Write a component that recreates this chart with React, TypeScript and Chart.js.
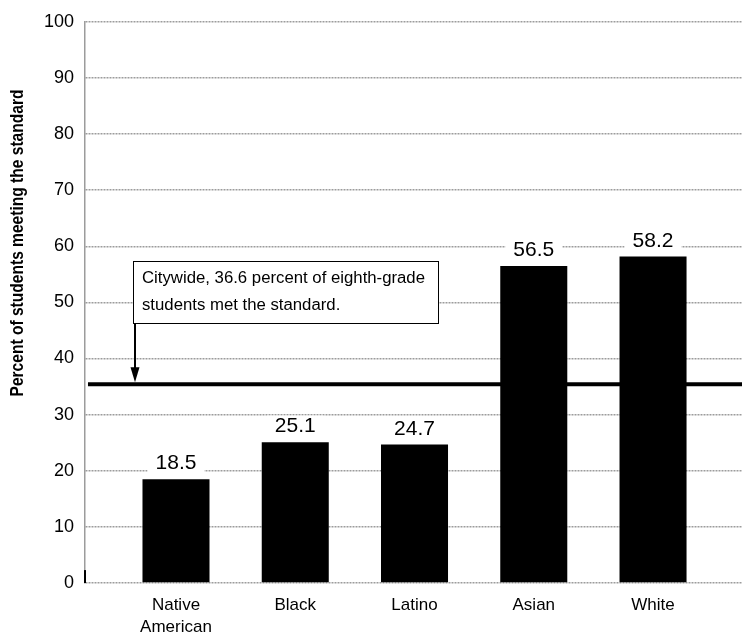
import React, { useEffect, useRef } from "react";
import { Chart, registerables } from "chart.js";

Chart.register(...registerables);

// ---- data ----
const categories = ["Native American", "Black", "Latino", "Asian", "White"];
const categoryLines = [["Native", "American"], ["Black"], ["Latino"], ["Asian"], ["White"]];
const barPositions = [1, 2, 3, 4, 5];
const percentMeeting = [18.5, 25.1, 24.7, 56.5, 58.2];
const citywideLevel = 35.4; // where the reference line is drawn
const citywideNote = ["Citywide, 36.6 percent of eighth-grade", "students met the standard."];
const yTickValues = [0, 10, 20, 30, 40, 50, 60, 70, 80, 90, 100];
const yTitle = "Percent of students meeting the standard";

const X_MIN = 0.237;
const X_MAX = 5.746;

const GRID = "#9c9c9c";
const SANS = "'Liberation Sans', Arial, sans-serif";
const NARROW = "'Liberation Sans Narrow', 'Liberation Sans', Arial, sans-serif";

const overlayPlugin = {
  id: "overlay",
  afterDatasetsDraw(chart: any) {
    const { ctx, chartArea, scales } = chart;
    const xs = scales.x;
    const ys = scales.y;
    ctx.save();

    // black tick at the lower-left corner
    ctx.fillStyle = "#000";
    ctx.fillRect(chartArea.left - 1, ys.getPixelForValue(2.3), 2, ys.getPixelForValue(0) - ys.getPixelForValue(2.3));

    // value labels with white backing
    ctx.font = `21px ${SANS}`;
    ctx.textAlign = "center";
    ctx.textBaseline = "middle";
    percentMeeting.forEach((v, i) => {
      const px = xs.getPixelForValue(barPositions[i]);
      const top = ys.getPixelForValue(v);
      const cy = top - 16.5;
      const label = v.toFixed(1);
      const w = ctx.measureText(label).width + 16;
      ctx.fillStyle = "#fff";
      ctx.fillRect(px - w / 2, cy - 10, w, 20);
      ctx.fillStyle = "#000";
      ctx.fillText(label, px, cy + 1);
    });

    // annotation box
    const bx = chartArea.left + 48;
    const by = 261;
    const bw = 305;
    const bh = 62;
    ctx.fillStyle = "#fff";
    ctx.fillRect(bx, by, bw, bh);
    ctx.strokeStyle = "#000";
    ctx.lineWidth = 1;
    ctx.strokeRect(bx + 0.5, by + 0.5, bw, bh);
    ctx.fillStyle = "#000";
    ctx.textAlign = "left";
    ctx.textBaseline = "middle";
    ctx.font = `16px ${NARROW}`;
    const w1 = ctx.measureText(citywideNote[0]).width;
    const sx = 283 / w1;
    citywideNote.forEach((line, i) => {
      ctx.save();
      ctx.translate(bx + 9, by + 18 + i * 27);
      ctx.scale(sx, 1);
      ctx.fillText(line, 0, 0);
      ctx.restore();
    });

    // arrow
    const ax = bx + 2;
    const tipY = ys.getPixelForValue(citywideLevel) - 2;
    ctx.lineWidth = 2;
    ctx.beginPath();
    ctx.moveTo(ax, by + bh);
    ctx.lineTo(ax, tipY - 10);
    ctx.stroke();
    ctx.beginPath();
    ctx.moveTo(ax - 4.5, tipY - 15);
    ctx.lineTo(ax + 4.5, tipY - 15);
    ctx.lineTo(ax, tipY);
    ctx.closePath();
    ctx.fill();

    // y-axis title
    ctx.font = `bold 19px ${NARROW}`;
    ctx.textAlign = "center";
    ctx.textBaseline = "middle";
    const tw = ctx.measureText(yTitle).width;
    ctx.save();
    ctx.translate(18, 243);
    ctx.rotate(-Math.PI / 2);
    ctx.scale(307 / tw, 1);
    ctx.fillText(yTitle, 0, 0);
    ctx.restore();

    ctx.restore();
  },
};

export default function App() {
  const canvasRef = useRef<HTMLCanvasElement | null>(null);

  useEffect(() => {
    const canvas = canvasRef.current;
    if (!canvas) return;
    const chart = new Chart(canvas, {
      type: "bar",
      data: {
        datasets: [
          {
            type: "bar",
            label: "Percent meeting standard",
            data: barPositions.map((x, i) => ({ x, y: percentMeeting[i] })),
            backgroundColor: "#000",
            borderWidth: 0,
            categoryPercentage: 1,
            barPercentage: 0.562,
            order: 2,
          } as any,
          {
            type: "line",
            label: "Citywide",
            data: [
              { x: X_MIN + 0.025, y: citywideLevel },
              { x: X_MAX, y: citywideLevel },
            ],
            borderColor: "#000",
            borderWidth: 4,
            pointRadius: 0,
            fill: false,
            order: 1,
          } as any,
        ],
      },
      options: {
        responsive: false,
        animation: false,
        layout: { padding: { top: 17, left: 0, right: 0, bottom: 0 } },
        plugins: {
          legend: { display: false },
          tooltip: { enabled: false },
          title: { display: false },
        },
        scales: {
          x: {
            type: "linear",
            offset: false,
            min: X_MIN,
            max: X_MAX,
            grid: { display: false, offset: false },
            border: { display: false },
            afterBuildTicks: (scale: any) => {
              scale.ticks = barPositions.map((v) => ({ value: v }));
            },
            afterFit: (scale: any) => {
              scale.height = 54;
            },
            ticks: {
              autoSkip: false,
              maxRotation: 0,
              minRotation: 0,
              padding: 3,
              color: "#000",
              font: { family: SANS, size: 17, lineHeight: 1.3 },
              callback: (value: any) => {
                const idx = barPositions.indexOf(Number(value));
                return idx >= 0 ? categoryLines[idx] : "";
              },
            },
          },
          y: {
            type: "linear",
            min: 0,
            max: 100,
            afterBuildTicks: (scale: any) => {
              scale.ticks = yTickValues.map((v) => ({ value: v }));
            },
            afterFit: (scale: any) => {
              scale.width = 85;
            },
            grid: {
              color: GRID,
              lineWidth: 1.5,
              drawTicks: false,
            },
            border: { display: true, color: GRID, width: 1.5, dash: [2, 1] },
            ticks: {
              padding: 11,
              color: "#000",
              font: { family: SANS, size: 18 },
            },
          },
        },
      },
      plugins: [overlayPlugin],
    } as any);
    return () => chart.destroy();
  }, []);

  return (
    <div style={{ position: "fixed", left: 0, top: 0, width: 742, height: 637, background: "#fff" }}>
      <canvas ref={canvasRef} width={742} height={637} style={{ display: "block" }} aria-label={categories.join(", ")} />
    </div>
  );
}
